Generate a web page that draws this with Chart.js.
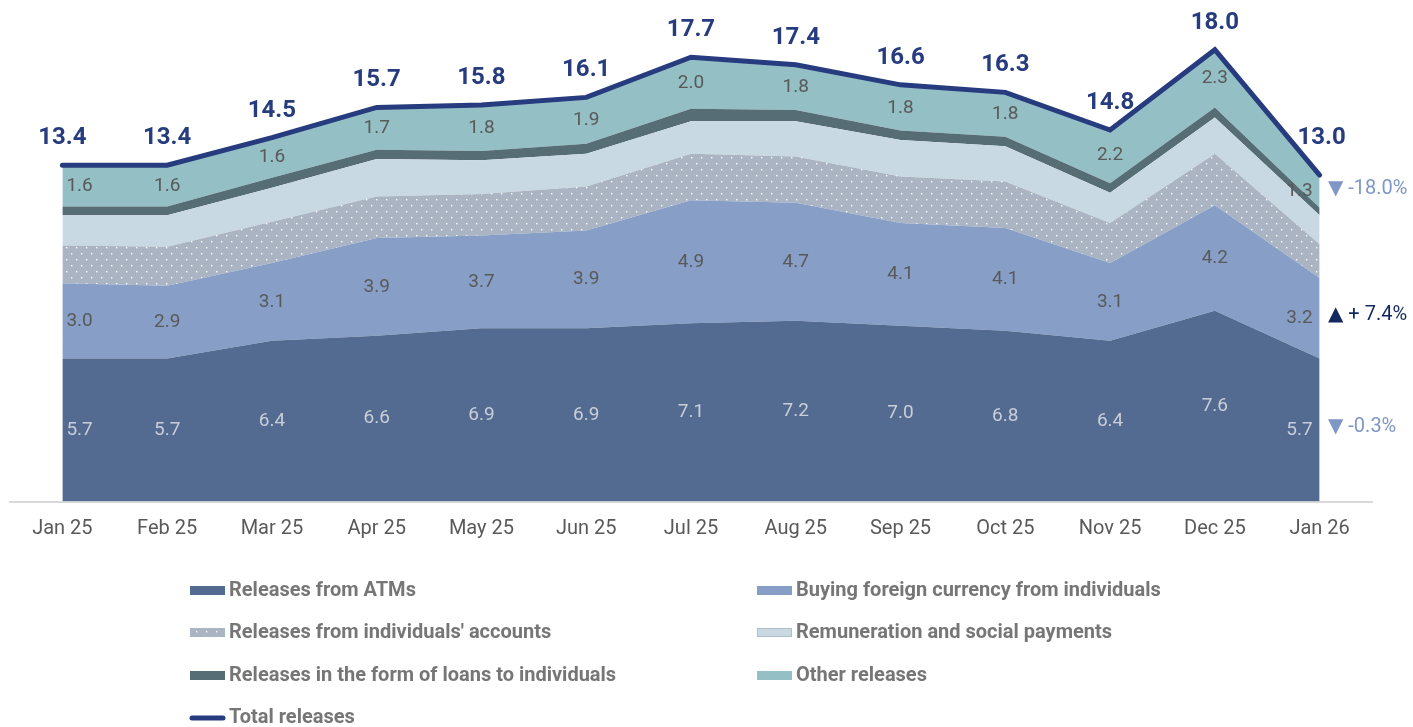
<!DOCTYPE html>
<html>
<head>
<meta charset="utf-8">
<script src="https://cdn.jsdelivr.net/npm/chart.js@4/dist/chart.umd.min.js"></script>
<style>
  html, body { margin: 0; padding: 0; background: #ffffff; }
  #wrap { width: 1413px; height: 727px; position: relative; }
</style>
</head>
<body>
<div id="wrap"><canvas id="c"></canvas></div>
<script>
// ---- data ----
const categories = ['Jan 25','Feb 25','Mar 25','Apr 25','May 25','Jun 25','Jul 25','Aug 25','Sep 25','Oct 25','Nov 25','Dec 25','Jan 26'];
const atmReleases      = [5.7, 5.7, 6.4, 6.6, 6.9, 6.9, 7.1, 7.2, 7.0, 6.8, 6.4, 7.6, 5.7];
const fxBuying         = [3.0, 2.9, 3.1, 3.9, 3.7, 3.9, 4.9, 4.7, 4.1, 4.1, 3.1, 4.2, 3.2];
const accountReleases  = [1.5, 1.55, 1.65, 1.65, 1.65, 1.75, 1.85, 1.85, 1.85, 1.85, 1.6, 2.05, 1.35];
const remuneration     = [1.2, 1.25, 1.35, 1.5, 1.35, 1.3, 1.3, 1.4, 1.45, 1.4, 1.2, 1.45, 1.15];
const loanReleases     = [0.35, 0.35, 0.4, 0.36, 0.36, 0.4, 0.5, 0.45, 0.38, 0.38, 0.38, 0.4, 0.3];
const otherReleases    = [1.6, 1.6, 1.6, 1.7, 1.8, 1.9, 2.0, 1.8, 1.8, 1.8, 2.2, 2.3, 1.3];
const totalReleases    = [13.4, 13.4, 14.5, 15.7, 15.8, 16.1, 17.7, 17.4, 16.6, 16.3, 14.8, 18.0, 13.0];
const seriesNames = ['Releases from ATMs', 'Buying foreign currency from individuals', "Releases from individuals' accounts",
                     'Remuneration and social payments', 'Releases in the form of loans to individuals', 'Other releases', 'Total releases'];
const changeLabels = ['-18.0%', '+ 7.4%', '-0.3%'];
const changeUp     = [false, true, false];
const changeSeries = [5, 1, 0];   // dataset index each change note sits beside
const yMax = 19;

// ---- styles ----
const FONT = 'Roboto, "Noto Sans", "DejaVu Sans", sans-serif';
const colAtm = '#536B91', colFx = '#879FC7', colAcc = '#AAB4C2', colRem = '#C9D9E3', colLoan = '#566D76', colOther = '#93BFC5', colTotal = '#263C7E';

function dotPattern() {
  const p = document.createElement('canvas');
  p.width = 10; p.height = 12;
  const g = p.getContext('2d');
  g.fillStyle = colAcc; g.fillRect(0, 0, 10, 12);
  g.fillStyle = 'rgba(255,255,255,0.95)';
  g.fillRect(1, 1, 1.4, 1.4);
  g.fillRect(6, 7, 1.4, 1.4);
  return g.createPattern(p, 'repeat');
}
const ctx = document.getElementById('c').getContext('2d');
const accFill = dotPattern();

function area(label, data, color, fill) {
  return { label, data, backgroundColor: color, borderWidth: 0, pointRadius: 0, fill, stack: 'parts', tension: 0 };
}

const labelPlugin = {
  id: 'labels',
  afterDatasetsDraw(chart) {
    const c = chart.ctx, ys = chart.scales.y, xs = chart.scales.x;
    const n = categories.length;
    const stacks = [atmReleases, fxBuying, accountReleases, remuneration, loanReleases, otherReleases];
    const labelled = [{ idx: 0, color: '#C9CED8' }, { idx: 1, color: '#595959' }, { idx: 5, color: '#595959' }];
    c.save();
    c.font = '19px ' + FONT;
    c.textBaseline = 'middle';
    for (const L of labelled) {
      for (let i = 0; i < n; i++) {
        let base = 0;
        for (let k = 0; k < L.idx; k++) base += stacks[k][i];
        const v = stacks[L.idx][i];
        const y = (ys.getPixelForValue(base) + ys.getPixelForValue(base + v)) / 2;
        let x = xs.getPixelForValue(i);
        if (i === 0) { c.textAlign = 'left'; x += 4; }
        else if (i === n - 1) { c.textAlign = 'right'; x -= 7; }
        else c.textAlign = 'center';
        c.fillStyle = L.color;
        c.fillText(v.toFixed(1), x, y);
      }
    }
    // totals
    c.font = 'bold 24px ' + FONT;
    c.fillStyle = colTotal;
    c.textAlign = 'center';
    for (let i = 0; i < n; i++) {
      const x = xs.getPixelForValue(i) + (i === n - 1 ? 2 : 0);
      const y = ys.getPixelForValue(totalReleases[i]) - (i === n - 1 ? 37 : 27);
      c.fillText(totalReleases[i].toFixed(1), x, y);
    }
    // change notes on the right
    c.font = '20px ' + FONT;
    c.textAlign = 'left';
    const last = n - 1;
    for (let j = 0; j < changeLabels.length; j++) {
      const si = changeSeries[j];
      let base = 0;
      for (let k = 0; k < si; k++) base += stacks[k][last];
      const y = (ys.getPixelForValue(base) + ys.getPixelForValue(base + stacks[si][last])) / 2 - 3;
      c.fillStyle = changeUp[j] ? '#13285E' : '#7F97C4';
      c.fillText((changeUp[j] ? '▲ ' : '▼ ') + changeLabels[j], chart.chartArea.right - 44, y);
    }
    c.restore();
  }
};

const legendPlugin = {
  id: 'customLegend',
  afterDraw(chart) {
    const c = chart.ctx;
    const ds = chart.data.datasets;
    const cols = [190, 757];
    const rows = [590, 632, 675, 717];
    c.save();
    c.font = 'bold 20px ' + FONT;
    c.textBaseline = 'middle';
    c.textAlign = 'left';
    for (let i = 0; i < ds.length; i++) {
      const x = cols[i % 2], y = rows[Math.floor(i / 2)];
      if (i === ds.length - 1) {
        c.strokeStyle = colTotal; c.lineWidth = 5; c.lineCap = 'round';
        c.beginPath(); c.moveTo(x + 2, y + 1); c.lineTo(x + 33, y + 1); c.stroke();
      } else {
        c.fillStyle = ds[i].backgroundColor;
        c.fillRect(x, y - 4, 35, 9);
        if (i === 3) { c.strokeStyle = '#B0BEC8'; c.lineWidth = 1; c.strokeRect(x + 0.5, y - 3.5, 34, 8); }
      }
      c.fillStyle = '#767676';
      c.fillText(ds[i].label, x + 39, y + 1);
    }
    c.restore();
  }
};

new Chart(ctx, {
  type: 'line',
  data: {
    labels: categories,
    datasets: [
      area(seriesNames[0], atmReleases, colAtm, 'origin'),
      area(seriesNames[1], fxBuying, colFx, '-1'),
      area(seriesNames[2], accountReleases, accFill, '-1'),
      area(seriesNames[3], remuneration, colRem, '-1'),
      area(seriesNames[4], loanReleases, colLoan, '-1'),
      area(seriesNames[5], otherReleases, colOther, '-1'),
      { label: seriesNames[6], data: totalReleases, borderColor: colTotal, backgroundColor: colTotal, borderWidth: 5,
        pointRadius: 0, fill: false, stack: 'total', order: -1, borderJoinStyle: 'miter', borderCapStyle: 'round', tension: 0 }
    ]
  },
  options: {
    responsive: true,
    maintainAspectRatio: false,
    animation: false,
    events: [],
    layout: { padding: { left: 10, right: 41, top: 24.6, bottom: 0 } },
    plugins: { legend: { display: false }, tooltip: { enabled: false } },
    scales: {
      x: {
        type: 'category',
        offset: true,
        grid: { display: false, drawTicks: false },
        border: { display: true, color: '#D9D9D9', width: 2 },
        ticks: { color: '#595959', font: { family: FONT, size: 20 }, padding: 15, maxRotation: 0, autoSkip: false },
        afterFit(s) { s.height = 225.5; }
      },
      y: { display: false, stacked: true, min: 0, max: yMax }
    }
  },
  plugins: [labelPlugin, legendPlugin]
});
</script>
</body>
</html>
